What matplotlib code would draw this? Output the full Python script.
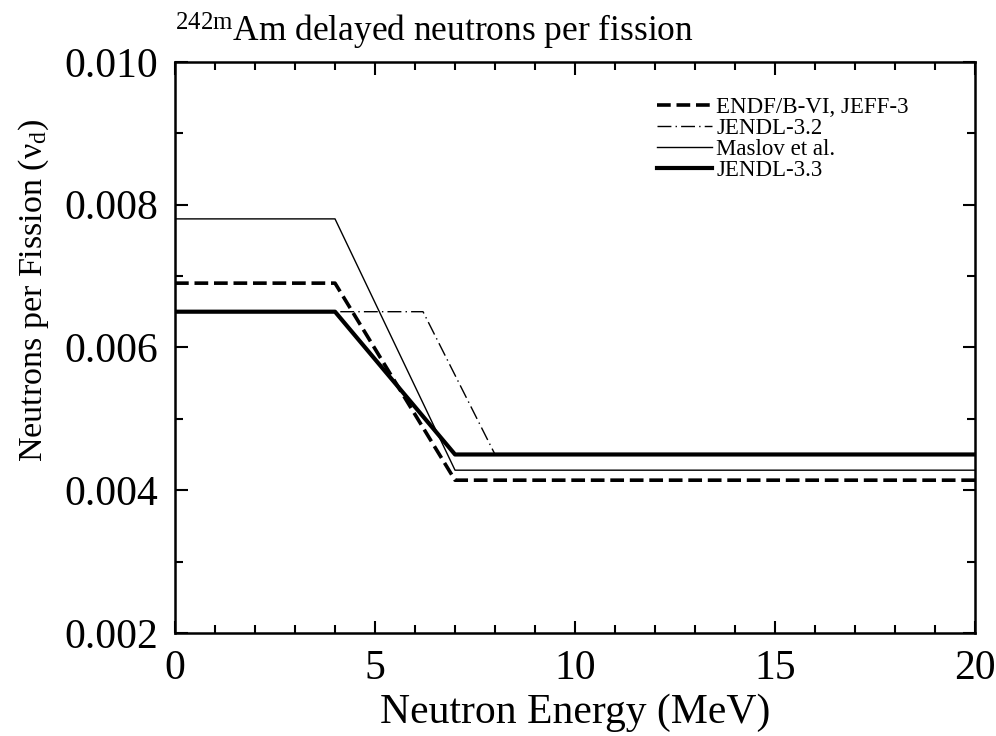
import numpy as np
import matplotlib.pyplot as plt
from matplotlib.ticker import MultipleLocator

# energies (MeV) and delayed neutron yields
e_endf = [0, 4, 7, 20]
nu_endf = [0.0069, 0.0069, 0.00414, 0.00414]

e_jendl32 = [0, 6.2, 8, 20]
nu_jendl32 = [0.0065, 0.0065, 0.0045, 0.0045]

e_maslov = [0, 4, 7, 20]
nu_maslov = [0.0078, 0.0078, 0.00428, 0.00428]

e_jendl33 = [0, 4, 7, 20]
nu_jendl33 = [0.0065, 0.0065, 0.0045, 0.0045]

plt.rcParams['font.family'] = ['Liberation Serif', 'DejaVu Serif']
plt.rcParams['mathtext.fontset'] = 'custom'
plt.rcParams['mathtext.rm'] = 'Liberation Serif'
plt.rcParams['mathtext.it'] = 'Liberation Serif:italic'

fig = plt.figure(figsize=(9.96, 7.36), dpi=100)
ax = fig.add_axes([0.1757, 0.140, 0.8033, 0.776])

ax.plot(e_endf, nu_endf, color='black', lw=2.6, ls=(0, (3.8, 1.6)), label='ENDF/B-VI, JEFF-3')
ax.plot(e_jendl32, nu_jendl32, color='black', lw=1.0, ls=(0, (10, 3, 1, 3)), label='JENDL-3.2')
ax.plot(e_maslov, nu_maslov, color='black', lw=1.0, label='Maslov et al.')
ax.plot(e_jendl33, nu_jendl33, color='black', lw=3.0, label='JENDL-3.3')

ax.set_xlim(0, 20)
ax.set_ylim(0.002, 0.010)
ax.xaxis.set_major_locator(MultipleLocator(5))
ax.xaxis.set_minor_locator(MultipleLocator(1))
ax.yaxis.set_major_locator(MultipleLocator(0.002))
ax.yaxis.set_minor_locator(MultipleLocator(0.001))
ax.yaxis.set_major_formatter(plt.FormatStrFormatter('%.3f'))
ax.tick_params(which='both', direction='in', top=True, right=True, width=1.5)
ax.tick_params(which='major', length=9, labelsize=30)
ax.tick_params(axis='x', which='major', pad=12)
ax.tick_params(axis='y', which='major', pad=12)
ax.tick_params(which='minor', length=6)
for s in ax.spines.values():
    s.set_linewidth(1.8)

ax.set_xlabel('Neutron Energy (MeV)', fontsize=30, labelpad=4)
ax.set_ylabel(r'Neutrons per Fission (ν$_{\rm d}$)', fontsize=24.5, labelpad=12)
ax.yaxis.set_label_coords(-0.155, 0.6)
fig.text(0.176, 0.93, r'$^{\rm 242m}$Am delayed neutrons per fission', fontsize=25.5, ha='left', va='bottom')

leg = ax.legend(loc='upper right', fontsize=16.5, frameon=False, handlelength=2.4,
                handletextpad=0.2, labelspacing=0.0, bbox_to_anchor=(0.943, 0.975))

fig.savefig('out.png', dpi=100)
